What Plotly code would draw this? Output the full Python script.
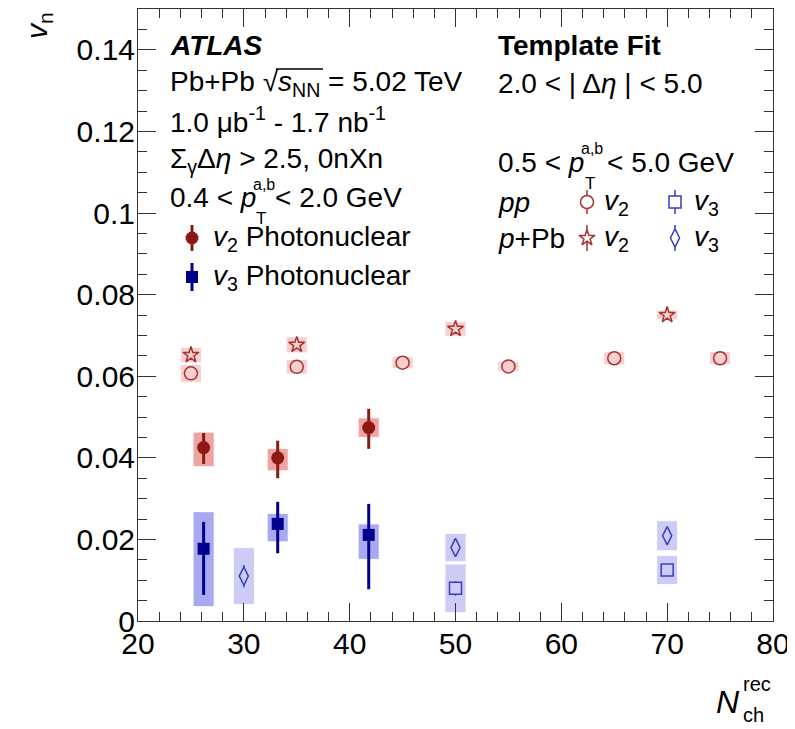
import plotly.graph_objects as go

# ---------------- data ----------------
# Photonuclear Pb+Pb (0nXn), 0.4 < pT < 2.0 GeV
pn_x = [26.2, 33.2, 41.8]
pn_v2 = [0.0425, 0.0400, 0.0474]
pn_v2_stat_up = [0.0036, 0.0042, 0.0046]
pn_v2_stat_dn = [0.0040, 0.0050, 0.0052]
pn_v2_sys_up = [0.0038, 0.0023, 0.0024]
pn_v2_sys_dn = [0.0047, 0.0032, 0.0024]
pn_v3 = [0.0177, 0.0238, 0.0211]
pn_v3_stat_up = [0.0066, 0.0054, 0.0076]
pn_v3_stat_dn = [0.0113, 0.0072, 0.0133]
pn_v3_sys_up = [0.0091, 0.0026, 0.0027]
pn_v3_sys_dn = [0.0142, 0.0044, 0.0060]

# pp template fit
pp_v2_x = [25, 35, 45, 55, 65, 75]
pp_v2 = [0.0607, 0.0623, 0.0633, 0.0624, 0.0644, 0.0644]
pp_v2_stat = [0.0004, 0.0004, 0.0004, 0.0004, 0.0004, 0.0004]
pp_v2_sys = [0.0022, 0.0018, 0.0015, 0.0012, 0.0016, 0.0016]
pp_v3_x = [50, 70]
pp_v3 = [0.0080, 0.0125]
pp_v3_stat = [0.0018, 0.0008]
pp_v3_sys = [0.0060, 0.0036]

# p+Pb template fit
ppb_v2_x = [25, 35, 50, 70]
ppb_v2 = [0.0652, 0.0677, 0.0716, 0.0750]
ppb_v2_stat = [0.0004, 0.0004, 0.0004, 0.0004]
ppb_v2_sys = [0.0019, 0.0020, 0.0018, 0.0012]
ppb_v3_x = [30, 50, 70]
ppb_v3 = [0.0110, 0.0180, 0.0209]
ppb_v3_stat = [0.0027, 0.0010, 0.0010]
ppb_v3_sys = [0.0070, 0.0035, 0.0037]

x_ticks = [20, 30, 40, 50, 60, 70, 80]
x_ticktext = ["20", "30", "40", "50", "60", "70", "80"]
y_ticks = [0, 0.02, 0.04, 0.06, 0.08, 0.10, 0.12, 0.14]
y_ticktext = ["0", "0.02", "0.04", "0.06", "0.08", "0.1", "0.12", "0.14"]

# ---------------- styles ----------------
FONT = "Liberation Sans, Arial, Helvetica, sans-serif"
BOX_W = 2.0
PN_V2_C, PN_V2_BOX = "#8c1a12", "#f0a3a3"
PN_V3_C, PN_V3_BOX = "#00008c", "#a9a9f2"
REF_V2_C, REF_V2_BOX = "#a83232", "#f6d0d0"
REF_V3_C, REF_V3_BOX = "#3b3bc0", "#ccccf7"
AX_C = "#333333"

# plot area in page pixels (the page body has an 8px margin)
L, R, T, B = 138, 773, 9, 621

fig = go.Figure()


def sys_box(x, y, up, dn, color):
    fig.add_trace(go.Bar(
        x=x, y=[u + d for u, d in zip(up, dn)],
        base=[v - d for v, d in zip(y, dn)],
        width=BOX_W, marker=dict(color=color, line=dict(color="white", width=1)),
        hoverinfo="skip"))


sys_box(pp_v2_x, pp_v2, pp_v2_sys, pp_v2_sys, REF_V2_BOX)
sys_box(ppb_v2_x, ppb_v2, ppb_v2_sys, ppb_v2_sys, REF_V2_BOX)
sys_box(pp_v3_x, pp_v3, pp_v3_sys, pp_v3_sys, REF_V3_BOX)
sys_box(ppb_v3_x, ppb_v3, ppb_v3_sys, ppb_v3_sys, REF_V3_BOX)
sys_box(pn_x, pn_v2, pn_v2_sys_up, pn_v2_sys_dn, PN_V2_BOX)
sys_box(pn_x, pn_v3, pn_v3_sys_up, pn_v3_sys_dn, PN_V3_BOX)


def points(x, y, up, dn, color, fill, symbol, size, lw=1.5, thick=1.5):
    fig.add_trace(go.Scatter(
        x=x, y=y, mode="markers",
        marker=dict(symbol=symbol, size=size, color=fill, line=dict(color=color, width=lw)),
        error_y=dict(type="data", array=up, arrayminus=dn, color=color, thickness=thick, width=0),
    ))


points(pp_v2_x, pp_v2, pp_v2_stat, pp_v2_stat, REF_V2_C, REF_V2_BOX, "circle", 13)
points(ppb_v2_x, ppb_v2, ppb_v2_stat, ppb_v2_stat, REF_V2_C, REF_V2_BOX, "star", 12)
points(pp_v3_x, pp_v3, pp_v3_stat, pp_v3_stat, REF_V3_C, REF_V3_BOX, "square", 12)
points(ppb_v3_x, ppb_v3, ppb_v3_stat, ppb_v3_stat, REF_V3_C, REF_V3_BOX, "diamond-tall", 13)
points(pn_x, pn_v2, pn_v2_stat_up, pn_v2_stat_dn, PN_V2_C, PN_V2_C, "circle", 13, 0, 3)
points(pn_x, pn_v3, pn_v3_stat_up, pn_v3_stat_dn, PN_V3_C, PN_V3_C, "square", 12, 0, 3)


# ---------------- legend glyphs on a pixel-coordinate overlay axis ----------------
def glyph(px, py, color, fill, symbol, size, half, lw=1.5, thick=1.5):
    fig.add_trace(go.Scatter(
        x=[px], y=[py], mode="markers", xaxis="x2", yaxis="y2",
        marker=dict(symbol=symbol, size=size, color=fill, line=dict(color=color, width=lw)),
        error_y=dict(type="data", array=[half], color=color, thickness=thick, width=0),
        hoverinfo="skip"))


glyph(192, 238, PN_V2_C, PN_V2_C, "circle", 13, 13, 0, 3)
glyph(192, 277, PN_V3_C, PN_V3_C, "square", 12, 14, 0, 3)
glyph(587, 202, REF_V2_C, "white", "circle", 13, 12)
glyph(675, 202, REF_V3_C, "white", "square", 12, 12)
glyph(587, 238, REF_V2_C, "white", "star", 12, 13)
glyph(675, 238, REF_V3_C, "white", "diamond-tall", 13, 13)

ann = []


def P(px, py):
    return (px - L) / (R - L), (B - py) / (B - T)


def txt(x, y, text, size=28, xanchor="left", angle=0):
    px, py = P(x, y)
    ann.append(dict(x=px, y=py, xref="paper", yref="paper", text=text, showarrow=False,
                    xanchor=xanchor, yanchor="middle", textangle=angle,
                    font=dict(family=FONT, size=size, color="black")))


# left block
txt(168, 45, "<b><i>ATLAS</i></b>")
txt(168, 83, "Pb+Pb √<i>s</i><sub>NN</sub> = 5.02 TeV")
txt(168, 120, "1.0 μb<sup>-1</sup> - 1.7 nb<sup>-1</sup>")
txt(168, 160, "Σ<sub>γ</sub>Δ<i>η</i> > 2.5, 0nXn")
txt(168, 197, "0.4 < <i>p</i>")
txt(251, 184, "a,b", 16)
txt(254, 218, "T", 17)
txt(273, 197, "< 2.0 GeV")
txt(211, 238, "<i>v</i><sub>2</sub> Photonuclear")
txt(211, 277, "<i>v</i><sub>3</sub> Photonuclear")

# right block
txt(496, 45, "<b>Template Fit</b>")
txt(496, 83, "2.0 < | Δ<i>η</i> | < 5.0")
txt(496, 162, "0.5 < <i>p</i>")
txt(579, 149, "a,b", 16)
txt(583, 183, "T", 17)
txt(605, 162, "< 5.0 GeV")
txt(496, 202, "<i>pp</i>")
txt(496, 238, "<i>p</i>+Pb")
txt(602, 202, "<i>v</i><sub>2</sub>")
txt(692, 202, "<i>v</i><sub>3</sub>")
txt(602, 238, "<i>v</i><sub>2</sub>")
txt(692, 238, "<i>v</i><sub>3</sub>")

# axis titles
txt(38, 26, "<i>v</i><sub>n</sub>", 30, "center", -90)
txt(728, 702, "<i>N</i>", 32, "center")
txt(741, 684, "rec", 20)
txt(741, 715, "ch", 20)

ox0, oy0 = P(276, 69)
ox1, _ = P(323, 69)

axis_common = dict(
    ticks="inside", ticklen=18, tickwidth=1, tickcolor=AX_C,
    showline=True, linecolor=AX_C, linewidth=1, mirror="ticks",
    showgrid=False, zeroline=False, ticklabelstandoff=-4,
    tickfont=dict(family=FONT, size=30, color="black"),
)

fig.update_layout(
    width=787, height=721,
    margin=dict(l=L - 8, r=795 - R, t=T - 8, b=729 - B),
    plot_bgcolor="white", paper_bgcolor="white",
    showlegend=False, barmode="overlay",
    font=dict(family=FONT, color="black"),
    xaxis=dict(range=[20, 80], tickvals=x_ticks, ticktext=x_ticktext,
               minor=dict(ticks="inside", ticklen=9, dtick=2, tick0=20, tickcolor=AX_C, showgrid=False),
               **axis_common),
    yaxis=dict(range=[0, 0.15], tickvals=y_ticks, ticktext=y_ticktext,
               minor=dict(ticks="inside", ticklen=9, dtick=0.005, tick0=0, tickcolor=AX_C, showgrid=False),
               **axis_common),
    xaxis2=dict(overlaying="x", anchor="y2", range=[L, R], visible=False),
    yaxis2=dict(overlaying="y", anchor="x2", range=[B, T], visible=False),
    annotations=ann,
    shapes=[dict(type="line", xref="paper", yref="paper", x0=ox0, x1=ox1, y0=oy0, y1=oy0,
                 line=dict(color="black", width=1.5))],
)

fig.write_html("out.html")
